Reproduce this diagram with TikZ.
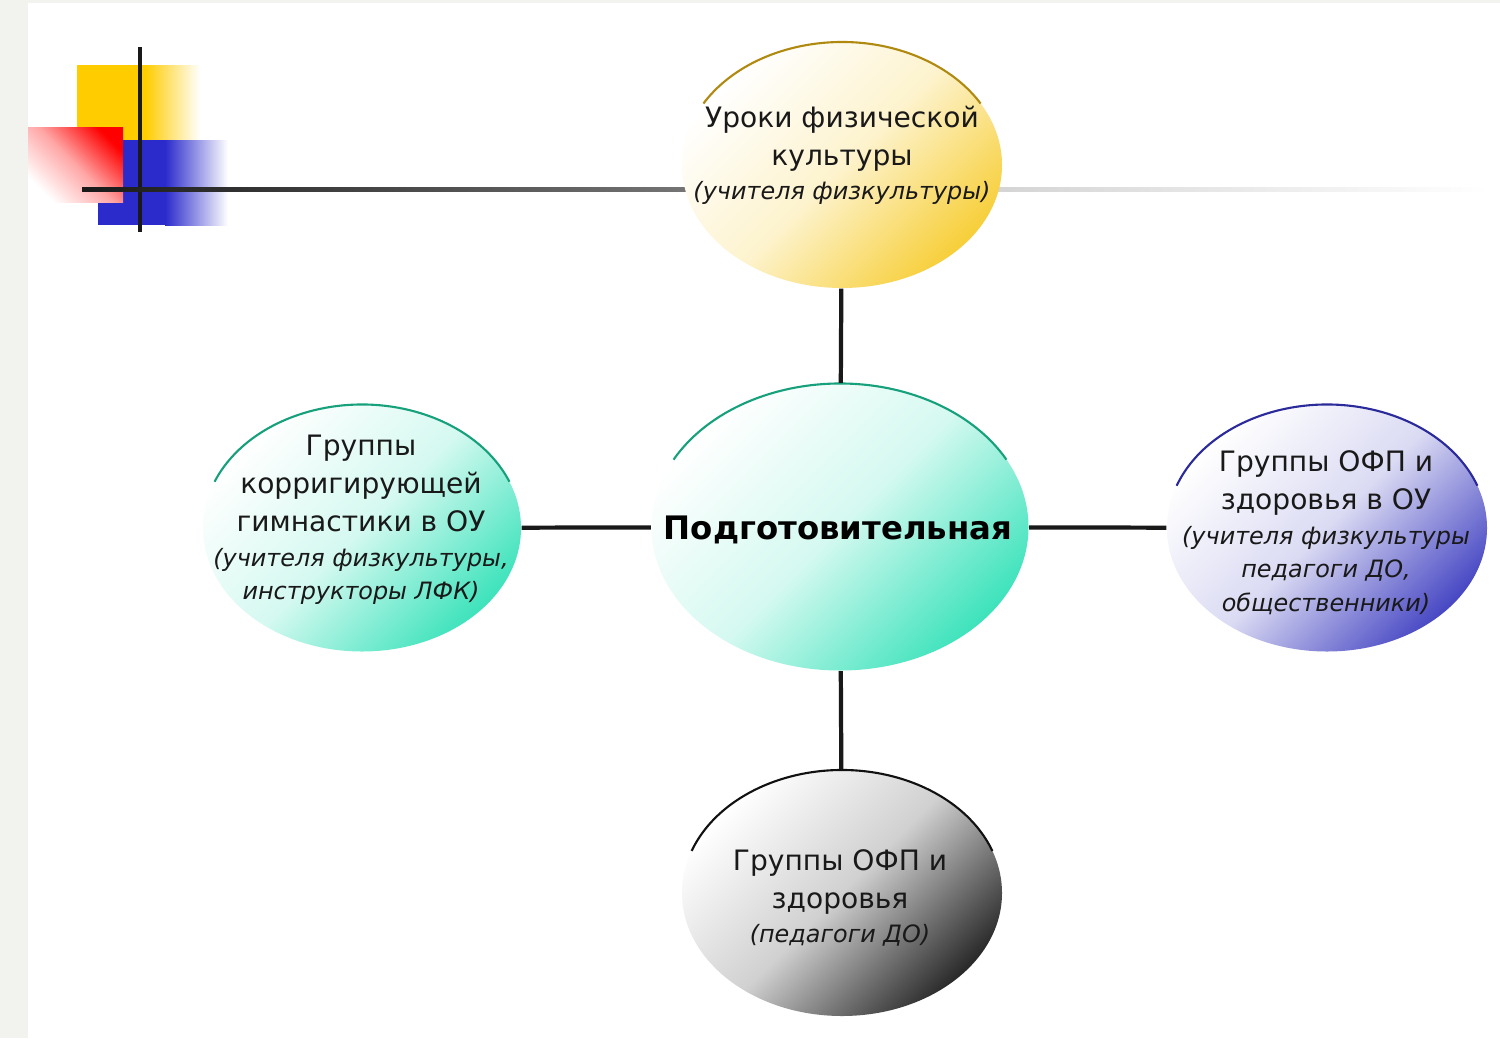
\documentclass[tikz,border=0pt]{standalone}
\usepackage{fontspec}
\setmainfont{DejaVu Sans}
\usetikzlibrary{shapes.geometric}

\definecolor{stripgrey}{HTML}{F2F3EE}
\definecolor{decoyellow}{HTML}{FFCC00}
\definecolor{decoblue}{HTML}{2B2BCC}
\definecolor{decored}{HTML}{FF0000}
\definecolor{goldfill}{HTML}{F7CF3A}
\definecolor{goldrim}{HTML}{B08A10}
\definecolor{mintfill}{HTML}{3EE3BC}
\definecolor{mintrim}{HTML}{17A07C}
\definecolor{violetfill}{HTML}{4848C4}
\definecolor{violetrim}{HTML}{2A2A9A}
\definecolor{greyfill}{HTML}{2A2A2A}
\definecolor{greyrim}{HTML}{111111}

\newcommand{\whom}[1]{{\fontsize{6.8}{9.2}\selectfont\itshape #1}}

\begin{document}
\begin{tikzpicture}[x=0.1mm,y=-0.1mm,
    bubble/.style={ellipse,draw=none,inner sep=0pt},
    tint/.style 2 args={top color=white,bottom color=#1,middle color=#1!#2,shading angle=45},
    blurb/.style={align=center,inner sep=0pt,text=black!90,font=\fontsize{8}{10.8}\selectfont},
    link/.style={draw=black!90,line width=1.2pt},
    rim/.style={line width=0.6pt}]

  \useasboundingbox (0,0) rectangle (1500,1038);
  \fill[white] (0,0) rectangle (1500,1038);
  \fill[stripgrey] (0,0) rectangle (28,1038);
  \fill[stripgrey] (0,0) rectangle (1500,3);

  % corner decoration
  \fill[decoyellow] (77,65) rectangle (145,140);
  \shade[left color=decoyellow,right color=white] (145,65) rectangle (200,140);
  \fill[decoblue] (98,140) rectangle (165,225);
  \shade[left color=decoblue,right color=white] (165,140) rectangle (228,225);
  \shade[top color=decored,bottom color=white,middle color=decored!35,shading angle=-45]
    (28,127) rectangle (123,202);
  \fill[black!90] (138,47) rectangle (142,232);
  \shade[left color=black!90,right color=black!45] (82,187) rectangle (843,191);
  \shade[left color=black!22,right color=white] (843,187) rectangle (1490,191);

  % ellipses
  \node[bubble,minimum width=32mm,minimum height=24.6mm,tint={goldfill}{25}] (top) at (842,165) {};
  \node[bubble,minimum width=37.7mm,minimum height=28.7mm,tint={mintfill}{22}] (mid) at (840,527) {};
  \node[bubble,minimum width=31.8mm,minimum height=24.7mm,tint={mintfill}{22}] (left) at (362,528) {};
  \node[bubble,minimum width=32mm,minimum height=24.7mm,tint={violetfill}{20}] (right) at (1327,528) {};
  \node[bubble,minimum width=32mm,minimum height=24.6mm,tint={greyfill}{22}] (bottom) at (842,893) {};

  % upper rims
  \foreach \n/\c/\rx/\ry/\a in {top/goldrim/16/12.3/30,mid/mintrim/18.85/14.35/28,
      left/mintrim/15.9/12.35/22,right/violetrim/16/12.35/20,bottom/greyrim/16/12.3/20}
    \draw[rim,\c] (\n.center) ++(180-\a:\rx mm and \ry mm)
      arc[start angle=180-\a,end angle=\a,x radius=\rx mm,y radius=\ry mm];

  % connectors
  \foreach \n in {top,left,right,bottom}
    \draw[link] (mid) -- (\n);

  % texts
  \node[blurb] (toptext) at (842,155)
    {Уроки физической\\культуры\\[-1.2pt]\whom{(учителя физкультуры)}};
  \node[blurb,font=\fontsize{9.2}{11}\selectfont\bfseries,text=black] (midtext) at (838,530)
    {Подготовительная};
  \node[blurb] (lefttext) at (361,520)
    {Группы\\корригирующей\\гимнастики в ОУ\\[-1pt]\whom{(учителя физкультуры,}\\[-1.2pt]\whom{инструкторы ЛФК)}};
  \node[blurb] (righttext) at (1326,533)
    {Группы ОФП и\\здоровья в ОУ\\[-1pt]\whom{(учителя физкультуры}\\[-1.2pt]\whom{педагоги ДО,}\\[-1.2pt]\whom{общественники)}};
  \node[blurb] (bottomtext) at (840,898)
    {Группы ОФП и\\здоровья\\[-1pt]\whom{(педагоги ДО)}};

\end{tikzpicture}
\end{document}
